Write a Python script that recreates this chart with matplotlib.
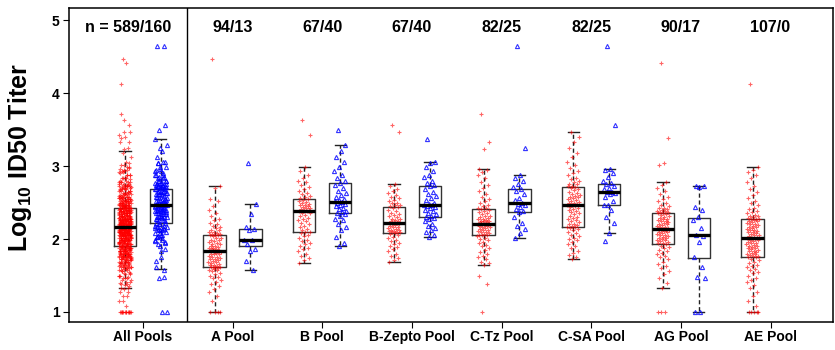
import numpy as np
import matplotlib
matplotlib.use('Agg')
import matplotlib.pyplot as plt

plt.rcParams['font.family'] = 'Liberation Sans'
plt.rcParams['font.weight'] = 'bold'
plt.rcParams['mathtext.fontset'] = 'custom'
plt.rcParams['mathtext.rm'] = 'Liberation Sans:bold'
plt.rcParams['mathtext.bf'] = 'Liberation Sans:bold'

groups = ['All Pools', 'A Pool', 'B Pool', 'B-Zepto Pool', 'C-Tz Pool',
          'C-SA Pool', 'AG Pool', 'AE Pool']

# log10 ID50 titers, one list per pool (red / blue)
a_red = [4.47, 2.73, 2.70, 2.55, 2.52, 2.45, 2.40, 2.36, 2.31, 2.28, 2.26, 2.22,
         2.20, 2.18, 2.16, 2.15, 2.13, 2.12, 2.10, 2.09, 2.08, 2.07, 2.07, 2.06,
         2.06, 2.05, 2.04, 2.02, 2.01, 1.99, 1.98, 1.97, 1.96, 1.94, 1.93, 1.93,
         1.91, 1.90, 1.89, 1.88, 1.87, 1.86, 1.86, 1.85, 1.84, 1.84, 1.83, 1.83,
         1.82, 1.81, 1.80, 1.80, 1.79, 1.77, 1.76, 1.75, 1.74, 1.73, 1.72, 1.71,
         1.70, 1.69, 1.68, 1.67, 1.66, 1.65, 1.64, 1.63, 1.62, 1.62, 1.61, 1.61,
         1.60, 1.59, 1.58, 1.57, 1.56, 1.54, 1.52, 1.50, 1.48, 1.46, 1.44, 1.41,
         1.38, 1.35, 1.31, 1.27, 1.22, 1.15, 1.0, 1.0, 1.0, 1.0]
a_blue = [3.04, 2.48, 2.34, 2.16, 2.14, 2.13, 1.99, 1.98, 1.93, 1.86, 1.83, 1.70, 1.58]

b_red = [3.63, 3.43, 2.99, 2.93, 2.88, 2.84, 2.80, 2.78, 2.74, 2.71, 2.68, 2.66,
         2.63, 2.61, 2.59, 2.57, 2.56, 2.55, 2.54, 2.52, 2.51, 2.50, 2.48, 2.47,
         2.46, 2.45, 2.44, 2.43, 2.42, 2.41, 2.40, 2.40, 2.39, 2.38, 2.36, 2.35,
         2.33, 2.31, 2.29, 2.27, 2.26, 2.24, 2.22, 2.20, 2.18, 2.16, 2.14, 2.12,
         2.10, 2.09, 2.08, 2.06, 2.04, 2.02, 1.99, 1.97, 1.95, 1.93, 1.91, 1.88,
         1.86, 1.83, 1.80, 1.77, 1.74, 1.71, 1.67]
b_blue = [3.50, 3.29, 3.21, 3.12, 3.05, 2.98, 2.93, 2.88, 2.83, 2.79, 2.77, 2.74,
          2.70, 2.66, 2.63, 2.60, 2.57, 2.55, 2.53, 2.52, 2.51, 2.50, 2.48, 2.46,
          2.45, 2.43, 2.41, 2.39, 2.37, 2.35, 2.34, 2.31, 2.28, 2.26, 2.21, 2.17,
          2.12, 2.03, 1.95, 1.91]

bz_red = [3.56, 3.47, 2.75, 2.72, 2.68, 2.66, 2.63, 2.60, 2.58, 2.56, 2.54, 2.52,
          2.50, 2.49, 2.47, 2.46, 2.45, 2.44, 2.42, 2.40, 2.38, 2.36, 2.34, 2.33,
          2.31, 2.30, 2.28, 2.27, 2.26, 2.25, 2.24, 2.23, 2.22, 2.22, 2.21, 2.20,
          2.19, 2.18, 2.17, 2.16, 2.15, 2.14, 2.13, 2.12, 2.11, 2.11, 2.10, 2.09,
          2.09, 2.08, 2.07, 2.05, 2.03, 2.01, 1.99, 1.97, 1.95, 1.93, 1.91, 1.89,
          1.86, 1.83, 1.80, 1.77, 1.74, 1.71, 1.68]
bz_blue = [3.37, 3.05, 3.04, 2.98, 2.93, 2.88, 2.85, 2.80, 2.77, 2.74, 2.72, 2.69,
           2.65, 2.62, 2.59, 2.56, 2.53, 2.50, 2.48, 2.47, 2.46, 2.45, 2.44, 2.42,
           2.40, 2.38, 2.36, 2.34, 2.32, 2.30, 2.29, 2.27, 2.24, 2.21, 2.18, 2.15,
           2.12, 2.09, 2.05, 2.03]

ctz_red = [3.71, 3.33, 3.23, 2.96, 2.95, 2.92, 2.88, 2.83, 2.78, 2.74, 2.70, 2.66,
           2.62, 2.58, 2.55, 2.52, 2.49, 2.47, 2.45, 2.43, 2.42, 2.41, 2.40, 2.38,
           2.37, 2.35, 2.34, 2.32, 2.31, 2.30, 2.29, 2.28, 2.27, 2.26, 2.25, 2.25,
           2.24, 2.23, 2.23, 2.22, 2.21, 2.21, 2.20, 2.20, 2.19, 2.18, 2.18, 2.17,
           2.16, 2.15, 2.14, 2.13, 2.12, 2.11, 2.10, 2.09, 2.08, 2.07, 2.06, 2.06,
           2.05, 2.04, 2.02, 2.00, 1.98, 1.96, 1.94, 1.92, 1.90, 1.88, 1.85, 1.82,
           1.79, 1.77, 1.75, 1.72, 1.69, 1.67, 1.65, 1.49, 1.38, 1.0]
ctz_blue = [4.65, 3.24, 2.88, 2.84, 2.79, 2.75, 2.71, 2.68, 2.66, 2.61, 2.56, 2.53,
            2.50, 2.48, 2.46, 2.44, 2.41, 2.38, 2.37, 2.30, 2.22, 2.18, 2.14, 2.08,
            2.02]

csa_red = [3.47, 3.40, 3.33, 3.25, 3.18, 3.12, 3.06, 3.01, 2.97, 2.93, 2.90, 2.87,
           2.84, 2.82, 2.80, 2.78, 2.76, 2.75, 2.73, 2.72, 2.71, 2.70, 2.68, 2.67,
           2.65, 2.63, 2.62, 2.60, 2.59, 2.58, 2.57, 2.56, 2.55, 2.53, 2.52, 2.51,
           2.50, 2.49, 2.48, 2.47, 2.46, 2.45, 2.44, 2.43, 2.41, 2.40, 2.38, 2.37,
           2.35, 2.34, 2.32, 2.30, 2.29, 2.27, 2.26, 2.24, 2.23, 2.21, 2.20, 2.19,
           2.18, 2.17, 2.16, 2.15, 2.14, 2.12, 2.10, 2.08, 2.06, 2.04, 2.02, 2.00,
           1.98, 1.96, 1.93, 1.90, 1.87, 1.84, 1.81, 1.78, 1.76, 1.73]
csa_blue = [4.65, 3.56, 2.96, 2.94, 2.90, 2.85, 2.80, 2.77, 2.76, 2.73, 2.70, 2.68,
            2.65, 2.64, 2.63, 2.62, 2.58, 2.52, 2.47, 2.46, 2.40, 2.30, 2.22, 2.08,
            1.97]

ag_red = [4.41, 3.38, 3.04, 3.01, 2.78, 2.74, 2.70, 2.66, 2.62, 2.58, 2.55, 2.52,
          2.49, 2.47, 2.45, 2.43, 2.42, 2.41, 2.40, 2.39, 2.38, 2.37, 2.37, 2.36,
          2.35, 2.34, 2.33, 2.31, 2.30, 2.29, 2.28, 2.27, 2.26, 2.25, 2.24, 2.23,
          2.22, 2.21, 2.20, 2.19, 2.18, 2.17, 2.16, 2.15, 2.14, 2.14, 2.13, 2.13,
          2.12, 2.11, 2.10, 2.09, 2.08, 2.07, 2.06, 2.05, 2.04, 2.03, 2.02, 2.01,
          2.00, 1.99, 1.98, 1.97, 1.96, 1.95, 1.94, 1.93, 1.91, 1.89, 1.87, 1.85,
          1.83, 1.81, 1.79, 1.77, 1.75, 1.72, 1.69, 1.66, 1.63, 1.60, 1.56, 1.52,
          1.47, 1.40, 1.33, 1.0, 1.0, 1.0]
ag_blue = [2.73, 2.72, 2.71, 2.44, 2.40, 2.30, 2.26, 2.15, 2.06, 2.04, 1.96, 1.75,
           1.62, 1.48, 1.47, 1.0, 1.0]

ae_red = [4.13, 2.99, 2.95, 2.92, 2.88, 2.83, 2.78, 2.73, 2.68, 2.64, 2.60, 2.56,
          2.52, 2.49, 2.46, 2.43, 2.41, 2.39, 2.37, 2.35, 2.33, 2.32, 2.31, 2.30,
          2.29, 2.28, 2.28, 2.27, 2.26, 2.25, 2.24, 2.23, 2.22, 2.21, 2.20, 2.19,
          2.18, 2.17, 2.16, 2.15, 2.14, 2.13, 2.12, 2.11, 2.10, 2.09, 2.08, 2.07,
          2.06, 2.05, 2.04, 2.03, 2.02, 2.01, 2.00, 1.99, 1.98, 1.97, 1.96, 1.95,
          1.94, 1.93, 1.92, 1.91, 1.90, 1.89, 1.88, 1.87, 1.86, 1.85, 1.84, 1.83,
          1.82, 1.81, 1.80, 1.79, 1.78, 1.77, 1.77, 1.76, 1.75, 1.73, 1.71, 1.69,
          1.67, 1.65, 1.63, 1.61, 1.59, 1.57, 1.55, 1.53, 1.50, 1.47, 1.44, 1.41,
          1.37, 1.33, 1.28, 1.22, 1.15, 1.08, 1.0, 1.0, 1.0, 1.0, 1.0]
ae_blue = []

# box statistics (All Pools first)
red_q1 = [1.91, 1.61, 2.09, 2.08, 2.05, 2.17, 1.93, 1.76]
red_med = [2.16, 1.83, 2.39, 2.22, 2.21, 2.46, 2.14, 2.01]
red_q3 = [2.42, 2.06, 2.55, 2.44, 2.41, 2.71, 2.36, 2.27]
red_lo = [1.33, 1.0, 1.67, 1.68, 1.65, 1.73, 1.33, 1.0]
red_hi = [3.20, 2.73, 2.99, 2.75, 2.96, 3.47, 2.78, 2.99]

blue_q1 = [2.22, 1.90, 2.35, 2.30, 2.37, 2.46, 1.74]
blue_med = [2.47, 1.99, 2.51, 2.46, 2.50, 2.65, 2.06]
blue_q3 = [2.68, 2.14, 2.77, 2.73, 2.68, 2.76, 2.29]
blue_lo = [1.59, 1.58, 1.91, 2.03, 2.02, 2.08, 1.0]
blue_hi = [3.37, 2.48, 3.29, 3.05, 2.88, 2.96, 2.73]


def jitter(n, width=0.07):
    # spread points sideways with a fixed low-discrepancy pattern
    i = np.arange(n)
    return ((i * 0.618034 + 0.31) % 1.0 - 0.5) * 2 * width


def box_stats(q1, med, q3, lo, hi):
    return [dict(q1=a, med=b, q3=c, whislo=d, whishi=e, fliers=[])
            for a, b, c, d, e in zip(q1, med, q3, lo, hi)]


def draw_boxes(ax, stats, positions):
    ax.bxp(stats, positions=positions, widths=0.25, capwidths=0.125,
           showfliers=False, manage_ticks=False,
           boxprops=dict(color='#333333', lw=1.0),
           whiskerprops=dict(color='#222222', lw=1.0, linestyle=(0, (3, 2))),
           capprops=dict(color='#222222', lw=1.0),
           medianprops=dict(color='black', lw=2.4, zorder=5))


def main():
    red_sets = [a_red, b_red, bz_red, ctz_red, csa_red, ag_red, ae_red]
    blue_sets = [a_blue, b_blue, bz_blue, ctz_blue, csa_blue, ag_blue, ae_blue]
    red_sets = [sum(red_sets, [])] + red_sets
    blue_sets = [sum(blue_sets, [])] + blue_sets

    fig = plt.figure(figsize=(8.35, 3.5), dpi=100)
    ax = fig.add_axes([0.083, 0.08, 0.915, 0.897])

    pos = np.arange(len(groups))
    draw_boxes(ax, box_stats(red_q1, red_med, red_q3, red_lo, red_hi), pos[:8] - 0.2)
    draw_boxes(ax, box_stats(blue_q1, blue_med, blue_q3, blue_lo, blue_hi), pos[:7] + 0.2)

    # jittered points
    for i, (r, b) in enumerate(zip(red_sets, blue_sets)):
        if r:
            ax.plot(i - 0.2 + jitter(len(r)), r, linestyle='none', marker='+',
                    ms=3.4, mew=0.8, color='#ff0000', alpha=0.6, zorder=3)
        if b:
            ax.plot(i + 0.2 + jitter(len(b)), b, linestyle='none', marker='^',
                    ms=3.0, mew=0.8, mfc='none', mec='#0000ff', alpha=0.8, zorder=3)
        lab = f'{len(r)}/{len(b)}'
        tx = i
        if i == 0:
            lab = 'n = ' + lab
            tx = -0.16   # the first count label sits left of its group
        ax.text(tx, 4.9, lab, ha='center', va='center', fontsize=11.5, fontweight='bold')

    # separator between All Pools and the individual pools
    ax.axvline(0.49, color='black', lw=1.0)

    ax.set_xlim(-0.82, 7.70)
    ax.set_ylim(0.863, 5.164)
    ax.set_xticks(pos)
    ax.set_xticklabels(groups, fontsize=10, fontweight='bold')
    ax.set_yticks([1, 2, 3, 4, 5])
    ax.set_yticklabels(['1', '2', '3', '4', '5'], fontsize=10, fontweight='bold')
    ax.tick_params(axis='y', length=4, width=0.8, pad=3)
    ax.tick_params(axis='x', length=4, width=0.8, pad=2)
    for s in ax.spines.values():
        s.set_lw(1.1)
    ax.set_ylabel(r'Log$_{\mathbf{10}}$ ID50 Titer', fontsize=18, fontweight='bold')
    ax.yaxis.set_label_coords(-0.046, 0.525)

    fig.savefig('out.png', dpi=100)


main()
